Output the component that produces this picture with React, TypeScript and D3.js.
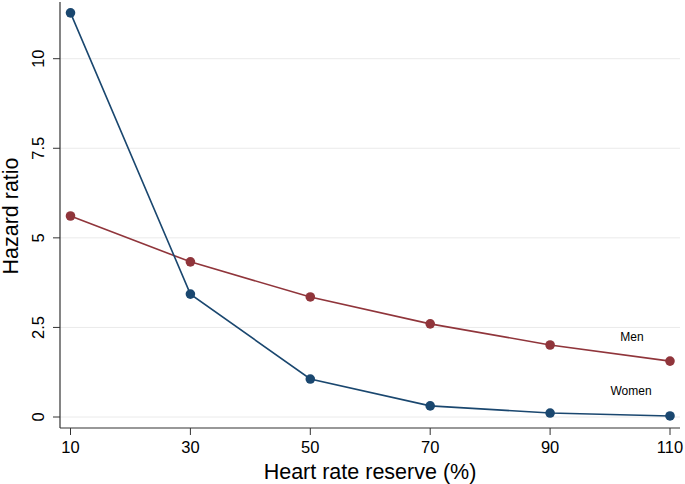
import React from "react";
import * as d3 from "d3";

const xValues = [10, 30, 50, 70, 90, 110];
const womenValues = [11.28, 3.43, 1.06, 0.31, 0.11, 0.03];
const menValues = [5.61, 4.33, 3.35, 2.6, 2.01, 1.56];
const yTicks = [0, 2.5, 5, 7.5, 10];
const yTickLabels = ["0", "2.5", "5", "7.5", "10"];
const xTicks = [10, 30, 50, 70, 90, 110];

const W = 685;
const H = 484;
const left = 60;
const right = 680;
const top = 2;
const bottom = 428;

export default function App() {
  const x = d3.scaleLinear().domain([10, 110]).range([70.5, 670]);
  const y = d3.scaleLinear().domain([0, 10]).range([417, 58.7]);
  const line = d3
    .line<[number, number]>()
    .x((d) => x(d[0]))
    .y((d) => y(d[1]));
  const women: [number, number][] = xValues.map((v, i) => [v, womenValues[i]]);
  const men: [number, number][] = xValues.map((v, i) => [v, menValues[i]]);
  const navy = "#1a476f";
  const maroon = "#90353b";
  const font = "Liberation Sans, Arial, sans-serif";
  return (
    <svg
      width={W}
      height={H}
      style={{ position: "absolute", left: 0, top: 0, background: "#fff" }}
      fontFamily={font}
    >
      {yTicks.map((t) => (
        <line key={"g" + t} x1={left} x2={right} y1={y(t)} y2={y(t)} stroke="#eaeaea" strokeWidth={1} />
      ))}
      <line x1={left} x2={left} y1={top} y2={bottom} stroke="#333" strokeWidth={1.2} />
      <line x1={left} x2={right} y1={bottom} y2={bottom} stroke="#333" strokeWidth={1.2} />
      {yTicks.map((t, i) => (
        <g key={"yt" + t}>
          <line x1={left - 7} x2={left} y1={y(t)} y2={y(t)} stroke="#333" strokeWidth={1} />
          <text
            transform={`translate(${43.5},${y(t)}) rotate(-90)`}
            textAnchor="middle"
            fontSize={16.5}
            fill="#000"
          >
            {yTickLabels[i]}
          </text>
        </g>
      ))}
      {xTicks.map((t) => (
        <g key={"xt" + t}>
          <line x1={x(t)} x2={x(t)} y1={bottom} y2={bottom + 7} stroke="#333" strokeWidth={1} />
          <text x={x(t)} y={453} textAnchor="middle" fontSize={16.5} fill="#000">
            {t}
          </text>
        </g>
      ))}
      <text x={370} y={479} textAnchor="middle" fontSize={21.5} fill="#000">
        Heart rate reserve (%)
      </text>
      <text transform={`translate(${17.5},${216}) rotate(-90)`} textAnchor="middle" fontSize={21.5} fill="#000">
        Hazard ratio
      </text>
      <path d={line(men) || ""} fill="none" stroke={maroon} strokeWidth={1.6} />
      <path d={line(women) || ""} fill="none" stroke={navy} strokeWidth={1.6} />
      {men.map((d, i) => (
        <circle key={"m" + i} cx={x(d[0])} cy={y(d[1])} r={4.8} fill={maroon} />
      ))}
      {women.map((d, i) => (
        <circle key={"w" + i} cx={x(d[0])} cy={y(d[1])} r={4.8} fill={navy} />
      ))}
      <text x={632} y={341} textAnchor="middle" fontSize={12} fill="#000">
        Men
      </text>
      <text x={631} y={395} textAnchor="middle" fontSize={12} fill="#000">
        Women
      </text>
    </svg>
  );
}
